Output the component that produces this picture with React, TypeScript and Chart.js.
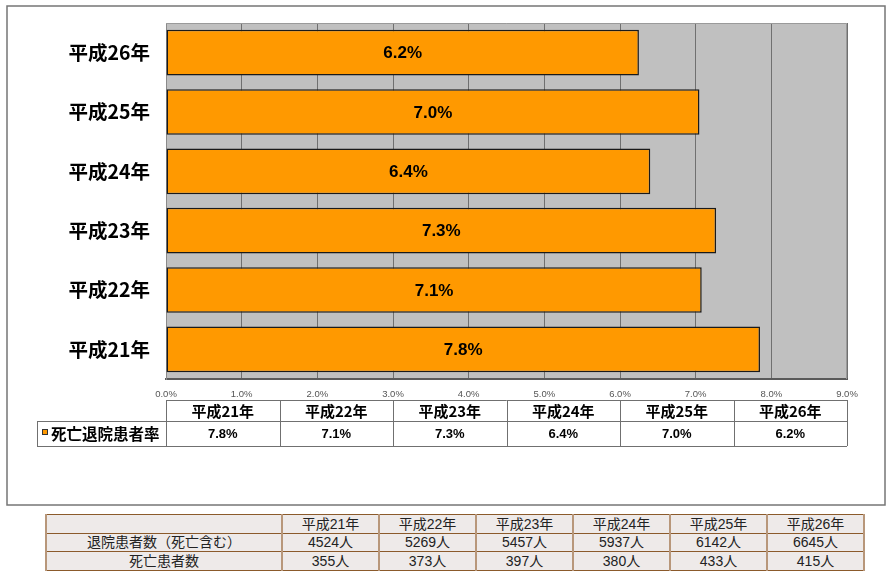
import React, { useEffect, useRef } from 'react';
import { Chart, registerables } from 'chart.js';

Chart.register(...registerables);

// ---- data ----
const years = ['平成21年', '平成22年', '平成23年', '平成24年', '平成25年', '平成26年'];
const deathRate = [7.85, 7.08, 7.27, 6.4, 7.05, 6.25];
const deathRateLabels = ['7.8%', '7.1%', '7.3%', '6.4%', '7.0%', '6.2%'];
const seriesName = '死亡退院患者率';
const xMin = 0;
const xMax = 9;
const xStep = 1;
const dischargedTitle = '退院患者数（死亡含む）';
const discharged = [4524, 5269, 5457, 5937, 6142, 6645];
const deathsTitle = '死亡患者数';
const deaths = [355, 373, 397, 380, 433, 415];
const personUnit = '人';

const JP = '"Noto Sans CJK JP", sans-serif';
const NUM = '"Liberation Sans", "Noto Sans CJK JP", sans-serif';

const chartPlugin = {
  id: 'excelLook',
  beforeDraw(chart: any) {
    const { ctx, chartArea } = chart;
    ctx.save();
    ctx.fillStyle = '#C0C0C0';
    ctx.fillRect(chartArea.left, chartArea.top, chartArea.right - chartArea.left, chartArea.bottom - chartArea.top);
    // outer frame
    ctx.strokeStyle = '#767676';
    ctx.lineWidth = 1.5;
    ctx.strokeRect(7, 6, 878, 499);
    ctx.restore();
  },
  afterDatasetsDraw(chart: any) {
    const { ctx } = chart;
    const meta = chart.getDatasetMeta(0);
    ctx.save();
    ctx.fillStyle = '#000';
    ctx.font = `bold 17px ${NUM}`;
    ctx.textAlign = 'center';
    ctx.textBaseline = 'middle';
    meta.data.forEach((bar: any, i: number) => {
      ctx.fillText(deathRateLabels[i], (bar.x + bar.base) / 2, bar.y + 1);
    });
    ctx.restore();
  },
  afterDraw(chart: any) {
    const { ctx, chartArea } = chart;
    const { left, right, top, bottom } = chartArea;
    ctx.save();
    // plot top/right edge
    ctx.strokeStyle = '#9a9a9a';
    ctx.lineWidth = 1;
    ctx.beginPath();
    ctx.moveTo(left, top + 0.5);
    ctx.lineTo(right - 0.5, top + 0.5);
    ctx.lineTo(right - 0.5, bottom);
    ctx.stroke();

    // data table
    const colW = (right - left) / years.length;
    const r0 = bottom + 21;
    const r1 = bottom + 42;
    const r2 = bottom + 67;
    const legendLeft = 37;
    ctx.strokeStyle = '#707070';
    ctx.lineWidth = 1;
    ctx.beginPath();
    ctx.moveTo(left, r0 + 0.5);
    ctx.lineTo(right, r0 + 0.5);
    ctx.moveTo(legendLeft, r1 + 0.5);
    ctx.lineTo(right, r1 + 0.5);
    ctx.moveTo(legendLeft, r2 + 0.5);
    ctx.lineTo(right, r2 + 0.5);
    ctx.moveTo(legendLeft + 0.5, r1);
    ctx.lineTo(legendLeft + 0.5, r2);
    for (let k = 0; k <= years.length; k++) {
      const x = Math.round(left + k * colW) + 0.5;
      ctx.moveTo(x, r0);
      ctx.lineTo(x, r2);
    }
    ctx.stroke();

    ctx.fillStyle = '#000';
    ctx.textAlign = 'center';
    ctx.textBaseline = 'middle';
    years.forEach((y, i) => {
      const cx = left + (i + 0.5) * colW;
      ctx.font = `bold 15px ${JP}`;
      ctx.fillText(y, cx, (r0 + r1) / 2 + 1);
      ctx.font = `bold 13px ${NUM}`;
      ctx.fillText(deathRateLabels[i], cx, (r1 + r2) / 2 + 1);
    });

    // legend key + series name
    ctx.fillStyle = '#FF9900';
    ctx.strokeStyle = '#333';
    ctx.fillRect(42, r1 + 8, 6, 6);
    ctx.strokeRect(42.5, r1 + 8.5, 5, 5);
    ctx.fillStyle = '#000';
    ctx.textAlign = 'left';
    ctx.font = `bold 15.5px ${JP}`;
    ctx.fillText(seriesName, 51, (r1 + r2) / 2 + 1);
    ctx.restore();
  },
};

function ExcelChart() {
  const ref = useRef<HTMLCanvasElement | null>(null);
  useEffect(() => {
    if (!ref.current) return;
    const chart = new Chart(ref.current, {
      type: 'bar',
      data: {
        labels: years,
        datasets: [
          {
            label: seriesName,
            data: deathRate,
            backgroundColor: '#FF9900',
            borderColor: '#1a1a1a',
            borderWidth: 1.5,
            borderSkipped: false,
            categoryPercentage: 1,
            barPercentage: 0.77,
          },
        ],
      },
      options: {
        indexAxis: 'y',
        responsive: false,
        animation: false,
        events: [],
        layout: { padding: { left: 0, top: 23, right: 45, bottom: 180 } },
        plugins: { legend: { display: false }, tooltip: { enabled: false } },
        scales: {
          x: {
            type: 'linear',
            min: xMin,
            max: xMax,
            afterFit: (s: any) => {
              s.height = 24;
            },
            ticks: {
              stepSize: xStep,
              padding: 10,
              color: '#555',
              font: { size: 9.5, family: NUM },
              callback: (v: any) => Number(v).toFixed(1) + '%',
            },
            grid: { color: '#707070', lineWidth: 1, drawTicks: false },
            border: { display: true, color: '#5a5a5a', width: 2 },
          },
          y: {
            type: 'category',
            reverse: true,
            afterFit: (s: any) => {
              s.width = 166;
              s.paddingTop = 0;
              s.paddingBottom = 0;
            },
            ticks: {
              padding: 16,
              color: '#000',
              font: { size: 19.5, weight: 'bold', family: JP },
            },
            grid: { display: false, drawTicks: false },
            border: { display: true, color: '#8a8a8a', width: 1 },
          },
        },
      },
      plugins: [chartPlugin],
    } as any);
    return () => chart.destroy();
  }, []);
  return (
    <canvas
      ref={ref}
      width={892}
      height={583}
      style={{ position: 'absolute', left: 0, top: 0, width: 892, height: 583 }}
    />
  );
}

const hBorder = '1px solid #8B5A2B';
const vBorder = '2px solid #B8977A';

function CountTable() {
  const cell: React.CSSProperties = {
    borderTop: hBorder,
    borderBottom: hBorder,
    borderLeft: vBorder,
    borderRight: vBorder,
    padding: 0,
    textAlign: 'center',
    whiteSpace: 'nowrap',
    lineHeight: '17px',
  };
  return (
    <table
      style={{
        position: 'absolute',
        left: 45,
        top: 514,
        width: 819,
        borderCollapse: 'collapse',
        tableLayout: 'fixed',
        background: '#EEEAE9',
        fontFamily: NUM,
        fontSize: 14,
        color: '#222',
      }}
    >
      <colgroup>
        <col style={{ width: 236 }} />
        {years.map((y) => (
          <col key={y} style={{ width: 97 }} />
        ))}
      </colgroup>
      <tbody>
        <tr style={{ height: 19 }}>
          <td style={cell}></td>
          {years.map((y) => (
            <td key={y} style={cell}>
              {y}
            </td>
          ))}
        </tr>
        <tr style={{ height: 18 }}>
          <td style={cell}>{dischargedTitle}</td>
          {discharged.map((v, i) => (
            <td key={i} style={cell}>
              {v}
              {personUnit}
            </td>
          ))}
        </tr>
        <tr style={{ height: 19 }}>
          <td style={cell}>{deathsTitle}</td>
          {deaths.map((v, i) => (
            <td key={i} style={cell}>
              {v}
              {personUnit}
            </td>
          ))}
        </tr>
      </tbody>
    </table>
  );
}

export default function App() {
  return (
    <div style={{ position: 'absolute', left: 0, top: 0, width: 892, height: 583, background: '#fff' }}>
      <ExcelChart />
      <CountTable />
    </div>
  );
}
